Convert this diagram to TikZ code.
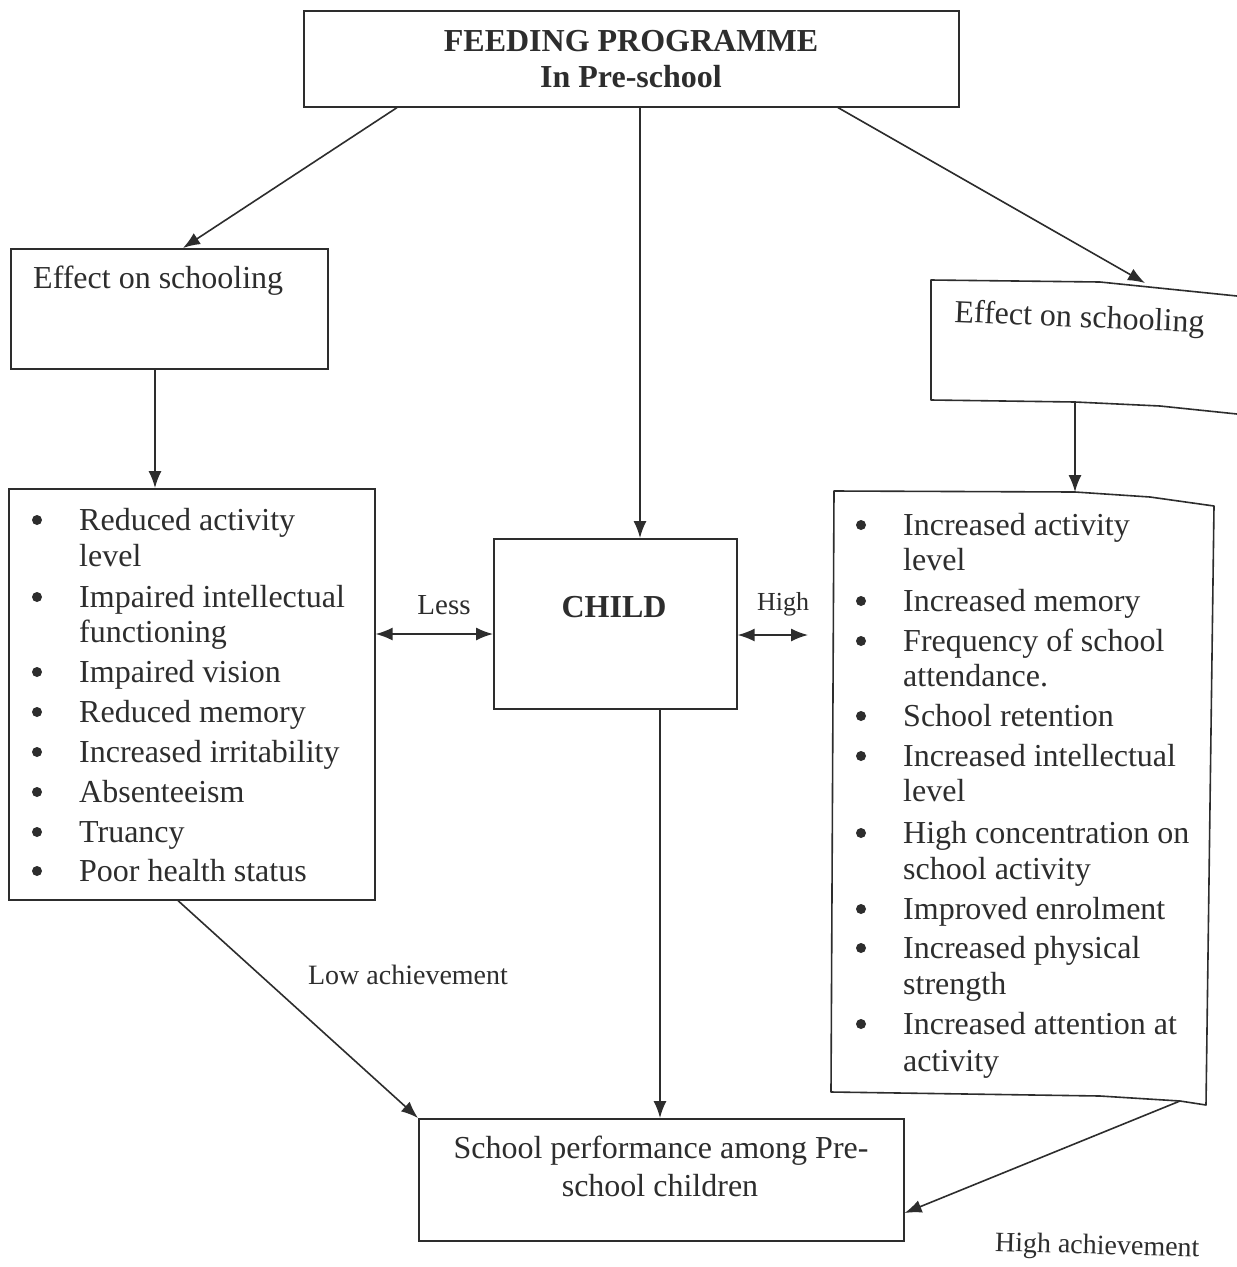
\documentclass[tikz,border=0pt]{standalone}
\usepackage{fontspec}
\setmainfont{Liberation Serif}
\usetikzlibrary{arrows.meta}
\definecolor{ink}{RGB}{45,45,45}
\begin{document}
\begin{tikzpicture}[x=1pt,y=-1pt,
  box/.style={draw=ink, line width=1.6pt, inner sep=0pt, anchor=north west},
  txt/.style={text=ink, font=\fontsize{32}{38}\selectfont, anchor=base west, inner sep=0pt},
  ctxt/.style={text=ink, font=\fontsize{32}{38}\selectfont, anchor=base, inner sep=0pt},
  btxt/.style={text=ink, font=\bfseries\fontsize{32}{38}\selectfont, anchor=base, inner sep=0pt},
  lbl/.style={text=ink, font=\fontsize{28}{34}\selectfont, anchor=base, inner sep=0pt},
  bul/.style={circle, fill=ink, inner sep=0pt, minimum size=10pt},
  arr/.style={draw=ink, line width=1.6pt, -{Latex[length=17pt,width=13pt]}},
  dbl/.style={draw=ink, line width=1.6pt, {Latex[length=17pt,width=13pt]}-{Latex[length=17pt,width=13pt]}},
  edge/.style={draw=ink, line width=1.6pt, line join=round}
]
\useasboundingbox[fill=white] (0,0) rectangle (1237,1267);

% ---------- boxes ----------
\node[box, minimum width=655pt, minimum height=96pt] (top) at (303,10) {};
\node[box, minimum width=317pt, minimum height=120pt] (leff) at (10,248) {};
\node[box, minimum width=366pt, minimum height=411pt] (llist) at (8,488) {};
\node[box, minimum width=243pt, minimum height=170pt] (child) at (493,538) {};
\node[box, minimum width=485pt, minimum height=122pt] (perf) at (418,1118) {};

% right "Effect on schooling" box (cut at the page edge)
\coordinate (rtl) at (931,280);
\coordinate (rtm) at (1100,282);
\coordinate (rtr) at (1237,296);
\coordinate (rbl) at (931,400);
\coordinate (rbm) at (1160,406);
\coordinate (rbr) at (1237,414);
\coordinate (rin) at (1145,283);
\coordinate (rout) at (1075,402);
\draw[edge] (rtr) -- (rtm) -- (rtl) -- (rbl) -- (rout) -- (rbm) -- (rbr);

% right list box
\coordinate (qtl) at (834,491);
\coordinate (qin) at (1075,492);
\coordinate (qt2) at (1150,497);
\coordinate (qtr) at (1214,506);
\coordinate (qbr) at (1206,1105);
\coordinate (qout) at (1180,1101);
\coordinate (qb2) at (1100,1096);
\coordinate (qbl) at (831,1092);
\draw[edge] (qtl) -- (qin) -- (qt2) -- (qtr) -- (qbr) -- (qout) -- (qb2) -- (qbl) -- cycle;

% ---------- texts ----------
\node[btxt] (t1) at (631,51) {FEEDING PROGRAMME};
\node[btxt] (t2) at (631,87) {In Pre-school};

\node[txt] (le) at (33,288) {Effect on schooling};
\node[txt, rotate=-2.4] (re) at (954,322) {Effect on schooling};

\node[btxt] (ch) at (614,617) {CHILD};

\node[ctxt] (p1) at (661,1158) {School performance among Pre-};
\node[ctxt] (p2) at (660,1196) {school children};

\node[lbl, font=\fontsize{29}{34}\selectfont] (less) at (444,614) {Less};
\node[lbl, font=\fontsize{26}{32}\selectfont] (high) at (783,610) {High};
\node[lbl] (low) at (408,984) {Low achievement};
\node[lbl, rotate=-1.5] (hach) at (1097,1254) {High achievement};

% left list
\foreach \y/\t [count=\i] in {530/Reduced activity, 566/level, 607/Impaired intellectual, 642/functioning, 682/Impaired vision, 722/Reduced memory, 762/Increased irritability, 802/Absenteeism, 842/Truancy, 881/Poor health status}
  \node[txt] (l\i) at (79,\y) {\t};
\foreach \y [count=\i] in {520,597,672,712,752,792,832,871}
  \node[bul] (lb\i) at (37,\y) {};

% right list
\foreach \y/\t [count=\i] in {535/Increased activity, 570/level, 611/Increased memory, 651/Frequency of school, 686/attendance., 726/School retention, 766/Increased intellectual, 801/level, 843/High concentration on, 879/school activity, 919/Improved enrolment, 958/Increased physical, 994/strength, 1034/Increased attention at, 1071/activity}
  \node[txt] (r\i) at (903,\y) {\t};
\foreach \y [count=\i] in {525,601,641,716,756,833,909,948,1024}
  \node[bul] (rb\i) at (861,\y) {};

% ---------- connectors ----------
\coordinate (hend) at (808,635);
\draw[arr] (397,0 |- top.south) -- (183,0 |- leff.north);
\draw[arr] (640,0 |- top.south) -- (640,0 |- child.north);
\draw[arr] (838,0 |- top.south) -- (rin);
\draw[arr] (155,0 |- leff.south) -- (155,0 |- llist.north);
\draw[arr] (rout) -- (qin);
\draw[dbl] (llist.east |- 0,634) -- (child.west |- 0,634);
\draw[dbl] (child.east |- 0,635) -- (hend);
\draw[arr] (178,0 |- llist.south) -- (perf.north west);
\draw[arr] (660,0 |- child.south) -- (660,0 |- perf.north);
\draw[arr] (qout) -- (perf.east |- 0,1213);
\end{tikzpicture}
\end{document}
